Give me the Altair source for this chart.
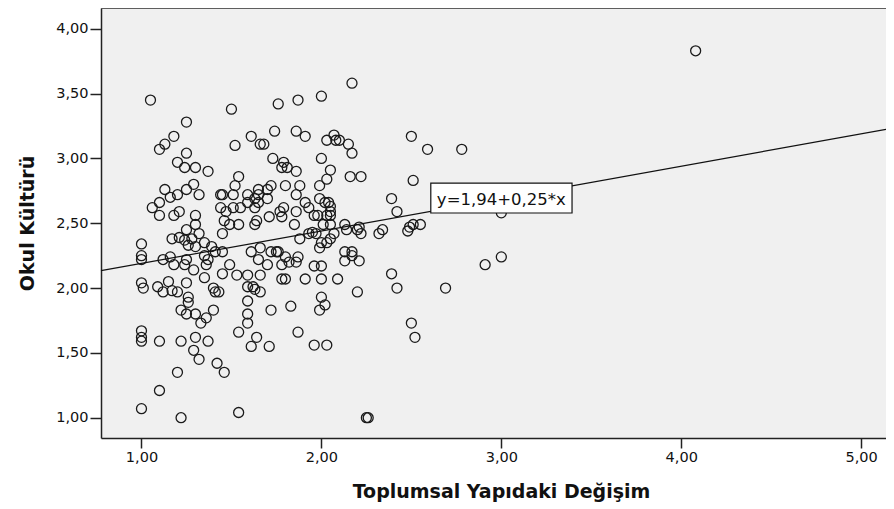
import altair as alt
import pandas as pd

# ---- data (x: Toplumsal Yapıdaki Değişim, y: Okul Kültürü)
x_vals = [
    1.05, 1.50, 1.76, 1.87, 2.00, 2.17, 1.25, 1.18, 1.13, 1.10,
    1.52, 1.61, 1.66, 1.68, 1.74, 1.86, 1.25, 1.20, 1.24, 1.30,
    1.37, 1.73, 1.79, 1.78, 1.81, 1.54, 1.52, 1.13, 1.29, 1.25,
    1.32, 1.20, 1.16, 1.10, 1.06, 1.21, 1.18, 1.10, 1.30, 1.44,
    1.45, 1.51, 1.59, 1.63, 1.65, 1.65, 1.70, 1.72, 1.80, 1.86,
    1.59, 1.63, 1.65, 1.70, 1.44, 1.47, 1.51, 1.55, 1.46, 1.49,
    1.54, 1.63, 1.64, 1.71, 1.77, 1.79, 1.78, 1.85, 1.86, 1.45,
    1.30, 1.25, 1.32, 1.17, 1.21, 1.24, 1.26, 1.28, 1.00, 1.35,
    1.30, 1.39, 1.66, 1.72, 1.76, 1.00, 1.00, 1.12, 1.16, 1.18,
    1.24, 1.25, 1.29, 1.35, 1.37, 1.36, 1.41, 1.45, 1.45, 1.49,
    1.53, 1.59, 1.61, 1.65, 1.66, 1.70, 1.75, 1.78, 1.80, 1.87,
    1.86, 1.82, 1.00, 1.01, 1.09, 1.12, 1.15, 1.17, 1.20, 1.25,
    1.26, 1.26, 1.35, 1.40, 1.41, 1.43, 1.22, 1.25, 1.30, 1.33,
    1.36, 1.40, 1.59, 1.62, 1.63, 1.66, 1.59, 1.59, 1.59, 1.72,
    1.78, 1.80, 1.83, 1.54, 1.64, 1.61, 1.71, 1.87, 1.00, 1.00,
    1.00, 1.10, 1.22, 1.30, 1.37, 1.29, 1.32, 1.42, 1.46, 1.20,
    1.10, 1.00, 1.22, 1.54, 1.91, 2.03, 2.07, 2.08, 2.10, 2.15,
    2.17, 2.50, 2.59, 2.78, 2.00, 1.86, 2.05, 2.03, 1.99, 2.16,
    2.22, 2.51, 1.88, 1.99, 2.02, 2.04, 2.05, 2.05, 2.03, 2.05,
    1.98, 1.96, 2.05, 2.01, 1.91, 1.93, 2.39, 2.42, 1.95, 1.97,
    1.93, 1.88, 2.13, 2.14, 2.20, 2.22, 2.21, 2.07, 2.05, 2.00,
    1.99, 2.03, 2.34, 2.32, 2.49, 2.51, 2.55, 2.48, 2.13, 2.17,
    2.13, 2.17, 2.21, 1.96, 2.00, 1.91, 2.00, 2.09, 2.39, 2.42,
    2.69, 2.20, 2.00, 2.02, 1.99, 1.96, 2.03, 2.50, 2.52, 2.25,
    2.26, 3.00, 2.91, 3.00, 4.08,
]
y_vals = [
    3.45, 3.38, 3.42, 3.45, 3.48, 3.58, 3.28, 3.17, 3.11, 3.07,
    3.10, 3.17, 3.11, 3.11, 3.21, 3.21, 3.04, 2.97, 2.93, 2.93,
    2.90, 3.00, 2.97, 2.93, 2.93, 2.86, 2.79, 2.76, 2.80, 2.76,
    2.72, 2.72, 2.70, 2.66, 2.62, 2.59, 2.56, 2.56, 2.56, 2.72,
    2.72, 2.72, 2.72, 2.69, 2.72, 2.76, 2.76, 2.79, 2.79, 2.72,
    2.66, 2.62, 2.66, 2.69, 2.62, 2.59, 2.62, 2.62, 2.52, 2.49,
    2.49, 2.49, 2.52, 2.55, 2.59, 2.62, 2.55, 2.49, 2.59, 2.42,
    2.49, 2.45, 2.42, 2.38, 2.39, 2.37, 2.33, 2.38, 2.34, 2.35,
    2.32, 2.32, 2.31, 2.28, 2.28, 2.25, 2.22, 2.22, 2.24, 2.18,
    2.18, 2.22, 2.14, 2.25, 2.22, 2.18, 2.28, 2.28, 2.11, 2.18,
    2.10, 2.10, 2.28, 2.22, 2.10, 2.18, 2.28, 2.18, 2.24, 2.24,
    2.20, 2.20, 2.04, 2.00, 2.01, 1.97, 2.05, 1.98, 1.97, 2.04,
    1.93, 1.89, 2.08, 2.00, 1.97, 1.97, 1.83, 1.80, 1.80, 1.73,
    1.77, 1.83, 2.01, 2.01, 1.99, 1.97, 1.90, 1.80, 1.73, 1.83,
    2.07, 2.07, 1.86, 1.66, 1.62, 1.55, 1.55, 1.66, 1.67, 1.62,
    1.59, 1.59, 1.59, 1.62, 1.59, 1.52, 1.45, 1.42, 1.35, 1.35,
    1.21, 1.07, 1.00, 1.04, 3.17, 3.14, 3.18, 3.14, 3.14, 3.11,
    3.04, 3.17, 3.07, 3.07, 3.00, 2.90, 2.91, 2.84, 2.79, 2.86,
    2.86, 2.83, 2.79, 2.69, 2.66, 2.66, 2.63, 2.59, 2.56, 2.56,
    2.56, 2.56, 2.49, 2.49, 2.66, 2.62, 2.69, 2.59, 2.43, 2.42,
    2.42, 2.38, 2.49, 2.45, 2.45, 2.42, 2.47, 2.42, 2.38, 2.35,
    2.31, 2.35, 2.45, 2.42, 2.47, 2.49, 2.49, 2.44, 2.28, 2.28,
    2.21, 2.25, 2.21, 2.17, 2.17, 2.07, 2.07, 2.07, 2.11, 2.00,
    2.00, 1.97, 1.93, 1.87, 1.83, 1.56, 1.56, 1.73, 1.62, 1.00,
    1.00, 2.58, 2.18, 2.24, 3.83,
]

# fitted line shown in the reference
intercept = 1.94
slope = 0.25
eq_text = ["y=1,94+0,25*x"]

x_ticks = [1, 2, 3, 4, 5]
y_ticks = [1.0, 1.5, 2.0, 2.5, 3.0, 3.5, 4.0]
x_domain = [0.775, 5.138]
y_domain = [0.8435, 4.16]

# equation label anchor (data units)
box_x, box_x2, box_y, box_y2 = 2.608, 3.393, 2.579, 2.810
text_x, text_y = 3.0, 2.64

W, H = 785, 430

df = pd.DataFrame({"x": x_vals, "y": y_vals})
line_df = pd.DataFrame({"x": x_domain})
box_df = pd.DataFrame({"x": [box_x], "x2": [box_x2], "y": [box_y], "y2": [box_y2]})
text_df = pd.DataFrame({"x": [text_x], "y": [text_y], "t": eq_text})

label_expr = "replace(format(datum.value, '.2f'), '.', ',')"
xscale = alt.Scale(domain=x_domain, nice=False, zero=False)
yscale = alt.Scale(domain=y_domain, nice=False, zero=False)

x_axis = alt.Axis(
    values=x_ticks, labelExpr=label_expr, grid=False,
    title="Toplumsal Yapıdaki Değişim",
    tickSize=10, labelPadding=2,
    titleX=400, titleY=59, titleAlign="center", titleBaseline="alphabetic",
)
y_axis = alt.Axis(
    values=y_ticks, labelExpr=label_expr, grid=False,
    title="Okul Kültürü",
    tickSize=11, labelPadding=2,
    titleX=-68, titleY=215, titleAngle=270, titleAlign="center",
    titleBaseline="alphabetic",
)

points = alt.Chart(df).mark_point(
    shape="circle", filled=False, size=100, strokeWidth=1.3,
    color="#1a1a1a", opacity=1,
).encode(
    x=alt.X("x:Q", scale=xscale, axis=x_axis),
    y=alt.Y("y:Q", scale=yscale, axis=y_axis),
)

fit = alt.Chart(line_df).transform_calculate(
    yf=f"{intercept} + {slope} * datum.x"
).mark_line(color="#111111", strokeWidth=1.2).encode(
    x=alt.X("x:Q", scale=xscale, axis=x_axis),
    y=alt.Y("yf:Q", scale=yscale, axis=y_axis),
)

box = alt.Chart(box_df).mark_rect(
    fill="white", stroke="#111111", strokeWidth=1.2
).encode(
    x=alt.X("x:Q", scale=xscale, axis=x_axis),
    x2="x2:Q",
    y=alt.Y("y:Q", scale=yscale, axis=y_axis),
    y2="y2:Q",
)

label = alt.Chart(text_df).mark_text(
    font="DejaVu Sans", fontSize=16.5, align="center", baseline="alphabetic",
    color="#111111",
).encode(
    x=alt.X("x:Q", scale=xscale, axis=x_axis),
    y=alt.Y("y:Q", scale=yscale, axis=y_axis),
    text="t:N",
)

top_border = alt.Chart(line_df).mark_rule(color="#555555", strokeWidth=1.5).encode(
    x=alt.value(0), x2=alt.value(W), y=alt.value(0)
)

chart = alt.layer(points, fit, box, label, top_border).properties(
    width=W, height=H,
    autosize=alt.AutoSizeParams(type="none"),
    padding={"left": 93, "top": 0, "right": 0, "bottom": 66},
    background="white",
).configure_view(
    fill="#F0F0F0", stroke="transparent"
).configure_axis(
    labelFont="DejaVu Sans", labelFontSize=14.5, labelColor="#111111",
    titleFont="DejaVu Sans", titleFontSize=19, titleFontWeight="bold",
    titleColor="#111111",
    domainColor="#222222", domainWidth=1.5,
    tickColor="#222222", tickWidth=1.5,
)

chart.save("out.html", embed_options={"renderer": "svg", "actions": False})
